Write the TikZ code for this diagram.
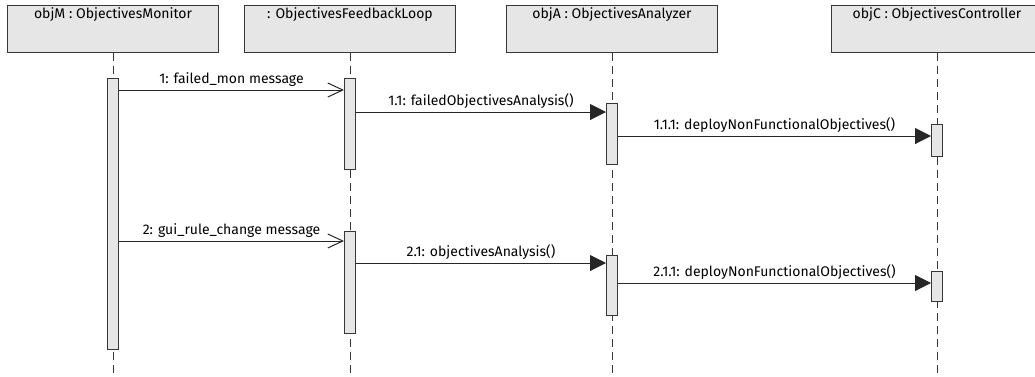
\documentclass[tikz,border=0pt]{standalone}
\usepackage{fontspec}
\setmainfont{Fira Sans}
\usetikzlibrary{arrows.meta, positioning}
\definecolor{headgray}{RGB}{230, 230, 230}
\definecolor{edgegray}{RGB}{55, 55, 55}

\begin{document}
\begin{tikzpicture}[
    x=1pt, y=-1pt,
    % Node styles
    head/.style={
        rectangle,
        draw=edgegray,
        fill=headgray,
        line width=1pt,
        minimum width=211pt,
        minimum height=47pt,
        inner sep=0pt,
        anchor=north
    },
    headtext/.style={
        font=\fontsize{14}{16}\selectfont,
        inner sep=2.5pt
    },
    lifeline/.style={
        draw=edgegray,
        line width=1pt,
        dash pattern=on 8pt off 5pt
    },
    activation/.style={
        rectangle,
        draw=edgegray,
        fill=headgray,
        line width=1pt,
        minimum width=11pt,
        minimum height=#1,
        inner sep=0pt,
        anchor=north
    },
    async/.style={
        -{Straight Barb[length=15pt, width=14pt]},
        line width=1pt,
        color=black!85
    },
    call/.style={
        -{Triangle[length=16pt, width=16pt]},
        line width=1pt,
        color=black!85
    },
    msglabel/.style={
        font=\fontsize{14}{16}\selectfont,
        above,
        inner sep=3.5pt,
        color=black
    }
]

\clip (0,0) rectangle (1035,376);

% ============================================
% LIFELINE HEADS
% ============================================

\node[head] (objM) at (113, 5) {};
\node[headtext, below=0pt of objM.north] (objMname) {objM : ObjectivesMonitor};

\node[head] (loop) at (350, 5) {};
\node[headtext, below=0pt of loop.north] (loopname) {: ObjectivesFeedbackLoop};

\node[head] (objA) at (612, 5) {};
\node[headtext, below=0pt of objA.north] (objAname) {objA : ObjectivesAnalyzer};

\node[head] (objC) at (937, 5) {};
\node[headtext, below=0pt of objC.north] (objCname) {objC : ObjectivesController};

% ============================================
% LIFELINES
% ============================================

\draw[lifeline] (objM.south) -- (objM.south |- 0,376);
\draw[lifeline] (loop.south) -- (loop.south |- 0,376);
\draw[lifeline] (objA.south) -- (objA.south |- 0,376);
\draw[lifeline] (objC.south) -- (objC.south |- 0,376);

% ============================================
% ACTIVATIONS
% ============================================

\node[activation=271pt] (actM) at (113, 78) {};

\node[activation=91pt] (actL1) at (350, 78) {};
\node[activation=61pt] (actA1) at (612, 103) {};
\node[activation=32pt] (actC1) at (937, 124) {};

\node[activation=102pt] (actL2) at (350, 231) {};
\node[activation=60pt] (actA2) at (612, 255) {};
\node[activation=30pt] (actC2) at (937, 271) {};

% ============================================
% MESSAGES
% ============================================

% failed_mon
\draw[async] (actM.east |- 0,90) -- node[msglabel] (m1) {1: failed\_mon message} (actL1.west |- 0,90);
\draw[call] (actL1.east |- 0,112) -- node[msglabel] (m11) {1.1: failedObjectivesAnalysis()} (actA1.west |- 0,112);
\draw[call] (actA1.east |- 0,136) -- node[msglabel] (m111) {1.1.1: deployNonFunctionalObjectives()} (actC1.west |- 0,136);

% gui_rule_change
\draw[async] (actM.east |- 0,241) -- node[msglabel] (m2) {2: gui\_rule\_change message} (actL2.west |- 0,241);
\draw[call] (actL2.east |- 0,263) -- node[msglabel] (m21) {2.1: objectivesAnalysis()} (actA2.west |- 0,263);
\draw[call] (actA2.east |- 0,283) -- node[msglabel] (m211) {2.1.1: deployNonFunctionalObjectives()} (actC2.west |- 0,283);

\end{tikzpicture}
\end{document}
